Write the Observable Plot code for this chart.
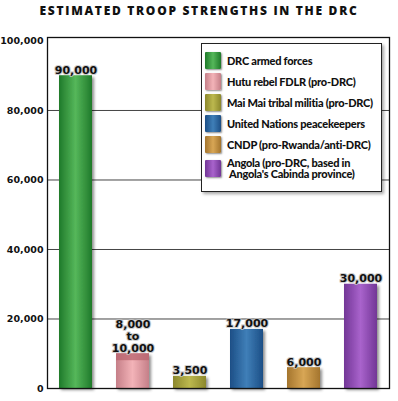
<!DOCTYPE html>
<html>
<head>
<meta charset="utf-8">
<script src="https://cdn.jsdelivr.net/npm/d3@7"></script>
<script src="https://cdn.jsdelivr.net/npm/@observablehq/plot@0.6"></script>
<style>
  html, body { margin: 0; padding: 0; background: #fff; }
  #wrap { position: relative; width: 398px; height: 401px; overflow: hidden; }
  #title { height: 24px; line-height: 22px; text-align: center; font-family: "Open Sans", "DejaVu Sans", sans-serif; font-weight: 800; font-size: 12px; letter-spacing: 1.7px; color: #111; }
  #legend { position: absolute; left: 201px; top: 43px; width: 181px; height: 149px; background: #fff; border: 1px solid #222; box-shadow: 2px 2px 3px rgba(0,0,0,0.35); box-sizing: border-box; padding: 8px 0 0 3px; font-family: Lato, "Liberation Sans", sans-serif; font-weight: 900; font-size: 11px; letter-spacing: -0.25px; color: #111; }
  .row { display: flex; align-items: center; margin-bottom: 4px; min-height: 17px; white-space: nowrap; }
  .row.two { margin-top: 4px; }
  .sw { width: 16px; height: 17px; margin-right: 6px; flex: none; border-radius: 1px; box-shadow: 1px 1px 2px rgba(0,0,0,0.45); }
  .lab { white-space: pre; line-height: 11px; }
</style>
</head>
<body>
<div id="wrap">
  <div id="title"></div>
  <div id="chart"></div>
  <div id="legend"></div>
</div>
<script>
const titleText = "ESTIMATED TROOP STRENGTHS IN THE DRC";
const categories = ["DRC", "FDLR", "MaiMai", "UN", "CNDP", "Angola"];
const legendLabels = [
  "DRC armed forces",
  "Hutu rebel FDLR (pro-DRC)",
  "Mai Mai tribal militia (pro-DRC)",
  "United Nations peacekeepers",
  "CNDP (pro-Rwanda/anti-DRC)",
  "Angola (pro-DRC, based in\n Angola's Cabinda province)"
];
const values = [90000, 10000, 3500, 17000, 6000, 30000];
const valueLabels = ["90,000", "8,000\nto\n10,000", "3,500", "17,000", "6,000", "30,000"];
const fdlrRange = [8000, 10000];
const yTicks = [0, 20000, 40000, 60000, 80000, 100000];
const gridTicks = [20000, 40000, 60000, 80000];
const centerColors = ["#55b75a", "#f3b3b8", "#bcb84e", "#3f7fb8", "#d8a655", "#a963cc"];
const edgeColors   = ["#1f7a2a", "#c57f88", "#8c882c", "#1d4f86", "#a4752e", "#723696"];
const fdlrTopColor = "#b8636d";

document.getElementById("title").textContent = titleText;

const data = categories.map((c, i) => ({name: c, value: values[i], label: valueLabels[i]}));
const fdlrTop = [{name: categories[1], y1: fdlrRange[0], y2: fdlrRange[1]}];
const gradIds = categories.map((c, i) => `url(#grad${i})`);

const chart = Plot.plot({
  width: 398,
  height: 377,
  marginLeft: 47,
  marginRight: 9,
  marginTop: 13,
  marginBottom: 13,
  style: {fontFamily: "DejaVu Sans, sans-serif", background: "transparent", color: "#111"},
  x: {domain: categories, paddingInner: 0.42, paddingOuter: 0.19, axis: null},
  y: {domain: [0, 101000], axis: null},
  color: {type: "ordinal", domain: categories, range: gradIds},
  marks: [
    Plot.ruleY(gridTicks, {stroke: "#444", strokeWidth: 1}),
    Plot.barY(data, {x: "name", y: "value", fill: "name"}),
    Plot.barY(fdlrTop, {x: "name", y1: "y1", y2: "y2", fill: fdlrTopColor, fillOpacity: 0.75}),
    Plot.frame({stroke: "#111", strokeWidth: 1.3}),
    Plot.axisY(yTicks, {tickSize: 0, tickPadding: 4, tickFormat: d3.format(","), fontSize: 9.5, fontWeight: "bold", fill: "#111"}),
    Plot.text(data, {x: "name", y: "value", text: "label", lineAnchor: "bottom", dy: -2, lineHeight: 1.1,
      fontSize: 11, fontWeight: "bold", fill: "#111", stroke: "#c4c4c4", strokeWidth: 2.2, strokeOpacity: 0.8})
  ]
});
document.getElementById("chart").appendChild(chart);

// gradient and shadow definitions
const svg = d3.select(chart.tagName.toLowerCase() === "svg" ? chart : chart.querySelector("svg"));
const defs = svg.insert("defs", ":first-child");
categories.forEach((c, i) => {
  const g = defs.append("linearGradient").attr("id", `grad${i}`).attr("x1", 0).attr("x2", 1).attr("y1", 0).attr("y2", 0);
  g.append("stop").attr("offset", "0%").attr("stop-color", edgeColors[i]);
  g.append("stop").attr("offset", "50%").attr("stop-color", centerColors[i]);
  g.append("stop").attr("offset", "100%").attr("stop-color", edgeColors[i]);
});
const f = defs.append("filter").attr("id", "shadow").attr("x", "-20%").attr("y", "-20%").attr("width", "150%").attr("height", "150%");
f.append("feDropShadow").attr("dx", 2).attr("dy", 2).attr("stdDeviation", 1.5).attr("flood-color", "#000").attr("flood-opacity", 0.45);
svg.selectAll("g[aria-label='bar']").filter((d, i) => i === 0).attr("filter", "url(#shadow)");

// legend
const legend = d3.select("#legend");
legendLabels.forEach((t, i) => {
  const row = legend.append("div").attr("class", t.includes("\n") ? "row two" : "row");
  row.append("div").attr("class", "sw")
    .style("background", `linear-gradient(to right, ${edgeColors[i]}, ${centerColors[i]} 50%, ${edgeColors[i]})`);
  row.append("div").attr("class", "lab").text(t);
});
</script>
</body>
</html>
